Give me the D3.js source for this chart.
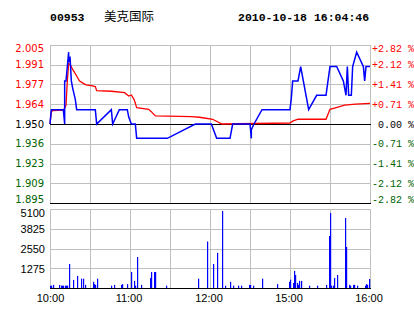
<!DOCTYPE html>
<html><head><meta charset="utf-8">
<script src="https://cdn.jsdelivr.net/npm/d3@7"></script>
<style>body{margin:0;background:#fff;} svg{display:block;}</style>
</head><body>
<svg id="c" width="414" height="314"></svg>
<script>
// ---------- data ----------
const stockCode = "00953";
const stockName = "美克国际";
const stamp = "2010-10-18 16:04:46";
const prevClose = 1.95;
const priceLabels = ["2.005","1.991","1.977","1.964","1.950","1.936","1.923","1.909","1.895"];
const pctLabels = ["+2.82 %","+2.12 %","+1.41 %","+0.71 %"," 0.00 %","-0.71 %","-1.41 %","-2.12 %","-2.82 %"];
const volTickValues = [5100, 3825, 2550, 1275];
const volLabels = ["5100","3825","2550","1275"];
const timeLabels = ["10:00","11:00","12:00","15:00","16:00"];
const gridTimes = ["10:00","10:30","11:00","11:30","12:00","12:30","15:00","15:30","16:00"];

// last price (blue)
const priceTimes = ["10:00","10:01","10:10","10:11","10:11","10:12","10:13","10:14","10:14","10:15","10:16","10:17","10:19","10:20",
  "10:34","10:35","10:46","10:47","10:52","10:58","10:59","11:01","11:04","11:05","11:28","11:49","12:01","12:05","12:15","12:17","12:30",
  "14:31","14:31","14:33","14:39","15:00","15:01","15:02","15:06","15:08","15:14","15:20","15:27","15:30","15:35","15:40","15:41","15:42",
  "15:43","15:44","15:46","15:47","15:50","15:55","15:56","15:57","16:00"];
const priceValues = [1.95,1.96,1.96,1.95,1.98,1.98,1.99,2.00,1.993,1.997,1.98,1.975,1.967,1.96,
  1.96,1.95,1.96,1.95,1.96,1.96,1.955,1.95,1.95,1.94,1.94,1.95,1.95,1.94,1.94,1.95,1.95,
  1.94,1.946,1.95,1.96,1.96,1.968,1.98,1.98,1.99,1.96,1.97,1.97,1.99,1.99,1.98,1.975,1.97,
  1.99,1.97,1.97,1.99,2.00,1.99,1.98,1.99,1.99];

// average price (red)
const avgTimes = ["10:00","10:01","10:02","10:10","10:11","10:12","10:13","10:14","10:15","10:17","10:20","10:22","10:25","10:27","10:31",
  "10:34","10:35","10:46","10:56","10:59","11:01","11:03","11:04","11:05","11:14","11:16","11:19","11:46","11:52","11:57","12:02","12:09",
  "15:00","15:02","15:06","15:27","15:30","15:34","15:41","15:49","16:00"];
const avgValues = [1.95,1.9586,1.9593,1.9597,1.961,1.963,1.980,1.992,1.9918,1.988,1.9834,1.980,1.9783,1.9772,1.9767,
  1.976,1.9732,1.9728,1.9718,1.9695,1.9702,1.9672,1.9644,1.9613,1.9602,1.9586,1.9556,1.9551,1.9547,1.954,1.9533,1.95,
  1.9507,1.952,1.9533,1.9533,1.9602,1.9613,1.9632,1.9639,1.9644];

// volume bars
const volTimes = ["10:00","10:01","10:02","10:07","10:08","10:09","10:10","10:11","10:12","10:13","10:14","10:17","10:20","10:23","10:25","10:26",
  "10:32","10:33","10:34","10:35","10:46","10:48","10:53","10:54","10:58","11:01","11:03","11:04","11:05","11:08","11:15","11:16","11:18","11:19",
  "11:27","11:51","11:58","12:02","12:05","12:09","12:11","12:15","12:17","12:21","12:23","12:29","14:30","14:32","14:39","14:50","14:59",
  "15:00","15:02","15:03","15:04","15:05","15:06","15:07","15:08","15:14","15:20","15:27","15:29","15:30","15:31","15:32","15:33","15:35",
  "15:41","15:42","15:44","15:45","15:47","15:48","15:50","15:56","15:57","15:58","15:59"];
const volValues = [150,150,200,200,150,150,150,150,150,150,1550,520,780,600,600,200,
  400,250,200,600,150,200,200,250,250,1030,460,150,2000,200,650,1030,1030,1030,
  150,600,3000,1550,2270,4970,150,400,150,150,150,200,200,150,600,250,400,
  540,320,1100,840,320,200,460,460,150,150,200,3360,4840,150,150,650,840,
  4520,2650,200,150,200,200,150,150,250,200,580];

// ---------- layout ----------
const L = 50, R = 370, PT = 45, PB = 203, VT = 209, VB = 288;
const svg = d3.select("#c");
const sessMin = s => { const [h, m] = s.split(":").map(Number); const t = h * 60 + m; return t <= 750 ? t - 600 : t - 720; };
const x = d3.scaleLinear().domain([0, 240]).range([L, R]);
const step = 0.01375;
const yP = d3.scaleLinear().domain([prevClose - 4 * step, prevClose + 4 * step]).range([PB, PT]);
const yV = d3.scaleLinear().domain([0, 5100]).range([VB, VT]);
const priceTicks = priceLabels.map((d, i) => prevClose + (4 - i) * step);
const grid = "#c0c0c0";

// gridlines
const gP = svg.append("g");
gP.selectAll("line.h").data(priceTicks).join("line")
  .attr("x1", L).attr("x2", R).attr("y1", d => Math.round(yP(d)) + 0.5).attr("y2", d => Math.round(yP(d)) + 0.5)
  .attr("stroke", grid);
gP.selectAll("line.v").data(gridTimes).join("line")
  .attr("x1", d => Math.round(x(sessMin(d))) + 0.5).attr("x2", d => Math.round(x(sessMin(d))) + 0.5)
  .attr("y1", PT).attr("y2", PB).attr("stroke", grid);
const gV = svg.append("g");
gV.selectAll("line.h").data([5100, 3825, 2550, 1275, 0]).join("line")
  .attr("x1", L).attr("x2", R).attr("y1", d => Math.round(yV(d)) + 0.5).attr("y2", d => Math.round(yV(d)) + 0.5)
  .attr("stroke", grid);
gV.selectAll("line.v").data(gridTimes).join("line")
  .attr("x1", d => Math.round(x(sessMin(d))) + 0.5).attr("x2", d => Math.round(x(sessMin(d))) + 0.5)
  .attr("y1", VT).attr("y2", VB).attr("stroke", grid);

// black baselines
[[yP(prevClose)], [PB], [VB]].forEach(([yy]) => {
  svg.append("line").attr("x1", L).attr("x2", R + 1).attr("y1", Math.round(yy) + 0.5).attr("y2", Math.round(yy) + 0.5)
    .attr("stroke", "#000");
});

// volume bars
svg.append("g").selectAll("rect").data(volTimes.map((t, i) => ({ t, v: volValues[i] }))).join("rect")
  .attr("x", d => Math.round(x(sessMin(d.t))))
  .attr("width", 1.2)
  .attr("y", d => yV(d.v))
  .attr("height", d => VB - yV(d.v))
  .attr("fill", "#0000ff");

// average line
const line = d3.line().x(d => x(sessMin(d.t))).y(d => yP(d.p));
svg.append("path").datum(avgTimes.map((t, i) => ({ t, p: avgValues[i] })))
  .attr("d", line).attr("fill", "none").attr("stroke", "#ff0000").attr("stroke-width", 1.3);
// price line
svg.append("path").datum(priceTimes.map((t, i) => ({ t, p: priceValues[i] })))
  .attr("d", line).attr("fill", "none").attr("stroke", "#0000ff").attr("stroke-width", 1.5);

// colors for labels
const col = i => i < 4 ? "#ff0000" : (i === 4 ? "#000000" : "#006400");
const shift = i => i === 0 ? 3 : (i === 8 ? -3.5 : 0);

// left price axis
const axL = svg.append("g").attr("transform", `translate(${L},0)`)
  .call(d3.axisLeft(yP).tickValues(priceTicks).tickFormat((d, i) => priceLabels[i]).tickSize(0).tickPadding(6));
axL.select(".domain").remove();
axL.selectAll("text").attr("font-family", "DejaVu Sans").attr("font-size", 10)
  .attr("fill", (d, i) => col(i)).attr("dy", (d, i) => (0.32 * 1 + shift(i) / 10) + "em");

// right percent axis
const axR = svg.append("g").attr("transform", `translate(${R},0)`)
  .call(d3.axisRight(yP).tickValues(priceTicks).tickFormat((d, i) => pctLabels[i]).tickSize(0).tickPadding(2));
axR.select(".domain").remove();
axR.selectAll("text").attr("font-family", "Liberation Mono").attr("font-size", 10).attr("xml:space", "preserve")
  .style("white-space", "pre")
  .attr("fill", (d, i) => col(i)).attr("dy", (d, i) => (0.32 + shift(i) / 10) + "em");

// volume axis
const axV = svg.append("g").attr("transform", `translate(${L},0)`)
  .call(d3.axisLeft(yV).tickValues(volTickValues).tickFormat((d, i) => volLabels[i]).tickSize(0).tickPadding(5));
axV.select(".domain").remove();
axV.selectAll("text").attr("font-family", "Liberation Sans").attr("font-size", 11).attr("fill", "#000")
  .attr("dy", (d, i) => i === 0 ? "0.72em" : "0.35em");

// time axis
const axT = svg.append("g").attr("transform", `translate(0,${VB})`)
  .call(d3.axisBottom(x).tickValues(timeLabels.map(sessMin)).tickFormat((d, i) => timeLabels[i]).tickSize(0).tickPadding(6));
axT.select(".domain").remove();
axT.selectAll("text").attr("font-family", "Liberation Sans").attr("font-size", 11).attr("fill", "#000")
  .attr("dx", (d, i) => i === 0 ? 0 : -1.5);

// header
svg.append("text").attr("x", 50).attr("y", 20.5).text(stockCode)
  .attr("font-family", "Liberation Mono").attr("font-weight", "bold").attr("font-size", 11.5);
svg.append("text").attr("x", 104).attr("y", 20.5).text(stockName)
  .attr("font-family", "Noto Sans CJK SC").attr("font-size", 12.5);
svg.append("text").attr("x", 238).attr("y", 20.5).text(stamp)
  .attr("font-family", "Liberation Mono").attr("font-weight", "bold").attr("font-size", 11.5);
</script>
</body></html>
